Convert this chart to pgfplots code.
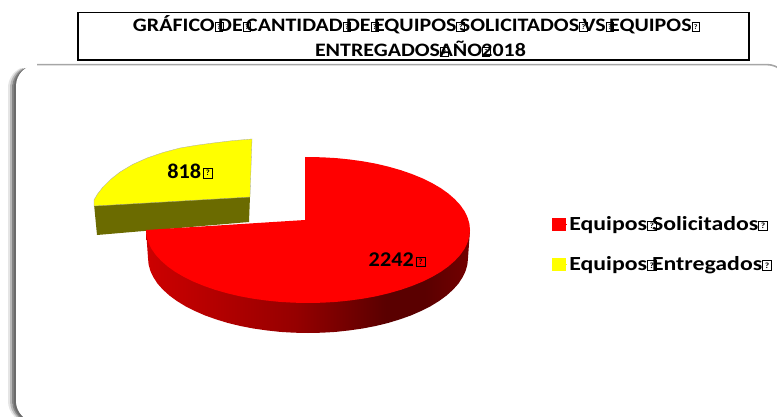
\documentclass[border=0pt]{standalone}
\usepackage{fontspec}
\usepackage{pgfplots}
\pgfplotsset{compat=1.18}
\setmainfont{Carlito}
\newfontfamily\titlefont[FakeStretch=1.155]{Carlito}
\newfontfamily\legfont[FakeStretch=1.19]{Carlito}
\newfontfamily\labfont[FakeStretch=1.06]{Carlito}
% the reference shows a small box with a ? wherever a space should be
% width, height, size of the ?, kern after
\newcommand{\tofu}[4]{{\fboxsep=0pt\fboxrule=0.7pt\raisebox{0.5pt}{\fbox{\vbox to #2{\vfil\hbox to #1{\hfil\fontsize{#3}{#3}\selectfont ?\hfil}\vfil}}}}\kern#4}
\newcommand{\tofuT}{\tofu{7pt}{8.5pt}{7}{-5pt}}
\newcommand{\tofuTb}{\tofu{7pt}{8.5pt}{7}{-9pt}}
\newcommand{\tofuTend}{\tofu{7pt}{8.5pt}{7}{0pt}}
\newcommand{\tofuM}{\tofu{8pt}{9pt}{8}{-4.5pt}}
\newcommand{\tofuE}{\tofu{8pt}{9pt}{8}{0pt}}
% one stroke of the left shadow: x, width, grey
\newcommand{\shadowline}[3]{\draw[line width=#2, black!#3] (axis cs:#1,401) arc[start angle=180,end angle=270,radius=21pt];
  \draw[line width=#2, black!#3] (axis cs:#1,401) -- (axis cs:#1,88) arc[start angle=180,end angle=115,radius=21pt];}
\definecolor{sa}{RGB}{205,0,0}
\definecolor{sb}{RGB}{150,0,0}
\definecolor{sc}{RGB}{90,0,0}
\definecolor{sd}{RGB}{115,0,0}
\definecolor{redp}{RGB}{255,0,0}
\definecolor{yelp}{RGB}{255,255,0}
\definecolor{olivesid}{RGB}{107,107,0}
% the path's bounding box takes the part from 25bp to 75bp
\pgfdeclarehorizontalshading{sidered}{100bp}{
  color(0bp)=(sa);
  color(25bp)=(sa);
  color(48bp)=(sb);
  color(62bp)=(sc);
  color(68bp)=(sc);
  color(75bp)=(sd);
  color(100bp)=(sd)}
\begin{document}
\begin{tikzpicture}
\useasboundingbox (0,0) rectangle (777pt,417pt);
\begin{axis}[
  at={(0,0)}, anchor=south west,
  width=777pt, height=417pt, scale only axis,
  xmin=0, xmax=777, ymin=0, ymax=417, y dir=reverse,
  hide axis,
  legend style={at={(axis cs:552,214.7)}, anchor=north west, draw=none, fill=none,
    font=\legfont\fontsize{20}{21}\selectfont\bfseries, row sep=20pt,
    inner sep=0pt, outer sep=0pt},
  legend cell align=left,
  legend image code/.code={\fill[#1] (0pt,-6.2pt) rectangle (12.7pt,6.2pt); \path (0pt,0pt) -- (15pt,0pt);},
]
% frame shadow and border
\shadowline{9}{2pt}{10}
\shadowline{11}{2pt}{28}
\shadowline{13}{2pt}{48}
\shadowline{15}{2.5pt}{58}
\fill[white] (axis cs:16,401) -- (axis cs:16,86) arc[start angle=180,end angle=90,radius=21pt] -- (axis cs:767,65) arc[start angle=90,end angle=0,radius=21pt] -- (axis cs:788,425) -- (axis cs:37,425) -- (axis cs:37,422) arc[start angle=270,end angle=180,radius=21pt] -- cycle;
\draw[line width=1.6pt, black!35] (axis cs:37,64.6) -- (axis cs:767,64.6) arc[start angle=90,end angle=0,radius=21pt];
% yellow slice
\addplot[forget plot, draw=none, fill=olivesid] coordinates {(94,204)(97,235)(249,222)(250,196)} -- cycle;
\addplot[forget plot, draw=black!35, line width=0.3pt, fill=yelp] coordinates {(252,139)(232,140.7)(213,143)(196,145.3)(180,148)(163,152.5)(147,158)(132.5,164.5)(120,172)(110.5,179.5)(103,187)(97.5,194)(94,200)(94,206)(250,197)} -- cycle;
% red side wall, then top face
\addplot[forget plot, draw=none, shade, shading=sidered] coordinates {(470,230)(468,258)(467.4,264.5)(465.6,271)(462.5,277.4)(458.4,283.7)(453,289.7)(446.6,295.5)(439.1,301)(430.6,306.2)(421.1,311)(410.8,315.5)(399.8,319.4)(388,323)(375.6,326)(362.7,328.5)(349.4,330.4)(335.8,331.9)(322,332.7)(308,333)(294,332.7)(280.2,331.9)(266.6,330.4)(253.3,328.5)(240.4,326)(228,323)(216.2,319.4)(205.2,315.5)(194.9,311)(185.4,306.2)(176.9,301)(169.4,295.5)(163,289.7)(157.6,283.7)(153.5,277.4)(150.4,271)(148.6,264.5)(148,258)(146,230)} -- cycle;
\addplot[forget plot, draw=none, fill=redp] coordinates {(305,157)(322.1,157.3)(336.1,158.1)(349.9,159.5)(363.4,161.4)(376.5,163.8)(389,166.8)(400.9,170.2)(412.1,174.1)(422.6,178.4)(432.1,183.1)(440.7,188.1)(448.3,193.5)(454.8,199.2)(460.2,205)(464.5,211.1)(467.5,217.3)(469.4,223.6)(470,230)(469.4,236.4)(467.5,242.7)(464.5,248.9)(460.2,255)(454.8,260.8)(448.3,266.5)(440.7,271.9)(432.1,276.9)(422.6,281.6)(412.1,285.9)(400.9,289.8)(389,293.2)(376.5,296.2)(363.4,298.6)(349.9,300.5)(336.1,301.9)(322.1,302.7)(308,303)(293.9,302.7)(279.9,301.9)(266.1,300.5)(252.6,298.6)(239.5,296.2)(227,293.2)(215.1,289.8)(203.9,285.9)(193.4,281.6)(183.9,276.9)(175.3,271.9)(167.7,266.5)(161.2,260.8)(155.8,255)(151.5,248.9)(148.5,242.7)(146.6,236.4)(146,230)(305,220)} -- cycle;
\addlegendimage{redp}
\addlegendentry{Equipos\tofuM Solicitados\tofuE}
\addlegendimage{yelp}
\addlegendentry{Equipos\tofuM Entregados\tofuE}
% data labels
\node[font=\labfont\fontsize{21}{22}\selectfont\bfseries] at (axis cs:190,171) {818\kern2pt\tofuE};
\node[font=\labfont\fontsize{21}{22}\selectfont\bfseries] at (axis cs:397,260) {2242\kern2pt\tofuE};
% title box and its text
\draw[line width=1.7pt, fill=white] (axis cs:78,12.5) rectangle (axis cs:749,60);
\node[inner sep=0pt, align=center,
  font=\titlefont\fontsize{19}{25}\selectfont\bfseries] at (axis cs:416.5,36.2)
  {GRÁFICO\tofuT DE\tofuT CANTIDAD\tofuT DE\tofuT EQUIPOS\tofuT SOLICITADOS\tofuT VS\tofuT EQUIPOS\tofuTend\\\kern8pt ENTREGADOS\tofuTb AÑO\tofuTb 2018};
\end{axis}
\end{tikzpicture}
\end{document}
